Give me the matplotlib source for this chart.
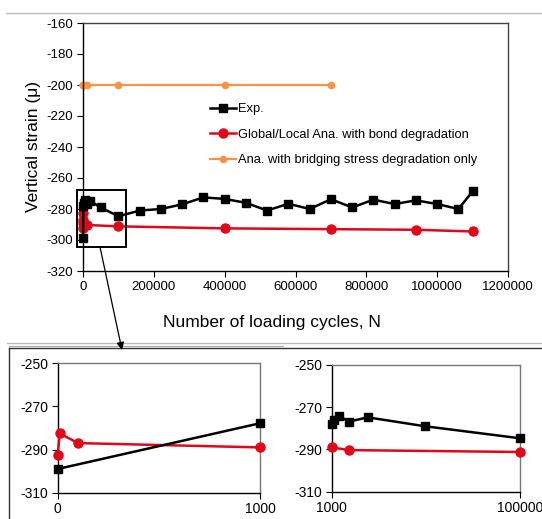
import matplotlib
matplotlib.use('Agg')
import matplotlib.pyplot as plt
from matplotlib.lines import Line2D
from matplotlib.patches import Rectangle

plt.rcParams['font.family'] = ['Liberation Sans', 'DejaVu Sans']
plt.rcParams['axes.linewidth'] = 1.0
plt.rcParams['axes.unicode_minus'] = False

# ---- data ----
exp_n = [0, 1000, 2000, 5000, 10000, 20000, 50000, 100000, 160000, 220000,
         280000, 340000, 400000, 460000, 520000, 580000, 640000, 700000,
         760000, 820000, 880000, 940000, 1000000, 1060000, 1100000]
exp_strain = [-299, -277.8, -276, -274.2, -276.8, -274.8, -279, -284.7, -281, -280,
              -277, -272.5, -273.5, -276, -281, -276.6, -280, -273.7,
              -279, -274, -276.8, -274.4, -276.8, -280, -268.6]

bond_n = [0, 10, 100, 1000, 10000, 100000, 400000, 700000, 940000, 1100000]
bond_strain = [-292.5, -282.5, -287, -289, -290.3, -291.2, -292.5, -293, -293.4, -294.5]

bridge_n = [0, 10, 100, 1000, 10000, 100000, 400000, 700000]
bridge_strain = [-200, -200, -200, -200, -200, -200, -200, -200]

main_xticks = [0, 200000, 400000, 600000, 800000, 1000000, 1200000]
main_yticks = [-320, -300, -280, -260, -240, -220, -200, -180, -160]
inset_yticks = [-310, -290, -270, -250]

C_EXP = 'black'
C_BOND = '#E0071B'
C_BRIDGE = '#F7944A'

W, H = 542, 519
fig = plt.figure(figsize=(W / 100, H / 100), dpi=100)


def fx(px):
    return px / W


def fy(py):
    return 1 - py / H


def style_frame(ax, side_color):
    ax.spines['left'].set_color('black')
    ax.spines['bottom'].set_color('black')
    ax.spines['top'].set_color(side_color)
    ax.spines['right'].set_color(side_color)


# ---- main chart ----
ax = fig.add_axes([fx(83), fy(271), fx(508) - fx(83), fy(23) - fy(271)])
ax.plot(bridge_n, bridge_strain, color=C_BRIDGE, lw=1.6, marker='o', ms=4.5,
        mec=C_BRIDGE, zorder=2, clip_on=False,
        label='Ana. with bridging stress degradation only')
ax.plot(bond_n, bond_strain, color=C_BOND, lw=1.8, marker='o', ms=6.5,
        mec=C_BOND, zorder=3, clip_on=False,
        label='Global/Local Ana. with bond degradation')
ax.plot(exp_n, exp_strain, color=C_EXP, lw=1.8, marker='s', ms=6,
        zorder=4, clip_on=False, label='Exp.')
ax.set_xlim(0, 1200000)
ax.set_ylim(-320, -160)
ax.set_xticks(main_xticks)
ax.set_xticklabels([str(v) for v in main_xticks])
ax.set_yticks(main_yticks)
ax.tick_params(labelsize=9.5, length=4, direction='out', pad=3)
style_frame(ax, '#444444')
ax.set_ylabel('Vertical strain (\u03bc)', fontsize=12.5, labelpad=4)

# zoom box
ax.add_patch(Rectangle((-17000, -304.5), 138000, 36.5, fill=False,
                       ec='black', lw=1.4, clip_on=False, zorder=5))

h, l = ax.get_legend_handles_labels()
order = [2, 1, 0]
fig.legend([h[i] for i in order], [l[i] for i in order],
           loc='upper left', bbox_to_anchor=(fx(210), fy(103)),
           frameon=False, fontsize=9.3, borderpad=0, borderaxespad=0,
           handlelength=2.0, handletextpad=0.15, labelspacing=1.05)

fig.text(fx(272), fy(322), 'Number of loading cycles, N', fontsize=12.5,
         ha='center', va='center')

# arrow from zoom box to insets
fig.add_artist(plt.Annotation('', xy=(fx(122), fy(350)), xytext=(fx(100), fy(247)),
                              xycoords='figure fraction', textcoords='figure fraction',
                              arrowprops=dict(arrowstyle='-|>', color='black', lw=0.9,
                                              mutation_scale=11, shrinkA=0, shrinkB=0)))

# decorative frame lines
fig.add_artist(Line2D([fx(6), 1], [fy(13), fy(13)], color='#BBBBBB', lw=1.0))
fig.add_artist(Line2D([fx(7), 1], [fy(343), fy(343)], color='#BBBBBB', lw=1.0))
fig.add_artist(Line2D([fx(9), fx(283)], [fy(345.5), fy(345.5)], color='#AAAAAA', lw=0.8))
fig.add_artist(Line2D([fx(9), 1], [fy(348), fy(348)], color='#333333', lw=1.0))
fig.add_artist(Line2D([fx(9), fx(9)], [fy(348), 0], color='#333333', lw=1.0))

# ---- inset 1: 0 - 1000 ----
ax1 = fig.add_axes([fx(57.7), fy(492.7), fx(260) - fx(57.7), fy(363.3) - fy(492.7)])
ax1.plot(bond_n[:4], bond_strain[:4], color=C_BOND, lw=1.8, marker='o', ms=6.5,
         mec=C_BOND, zorder=3, clip_on=False)
ax1.plot(exp_n[:2], exp_strain[:2], color=C_EXP, lw=1.8, marker='s', ms=6,
         zorder=4, clip_on=False)
ax1.set_xlim(0, 1000)
ax1.set_ylim(-310, -250)
ax1.set_xticks([0, 1000])
ax1.set_yticks(inset_yticks)
ax1.tick_params(labelsize=10, length=4, direction='out', pad=3)
style_frame(ax1, '#777777')

# ---- inset 2: 1000 - 100000 ----
ax2 = fig.add_axes([fx(331.7), fy(491.7), fx(520) - fx(331.7), fy(365) - fy(491.7)])
ax2.plot(bond_n[3:6], bond_strain[3:6], color=C_BOND, lw=1.8, marker='o', ms=6.5,
         mec=C_BOND, zorder=3, clip_on=False)
ax2.plot(exp_n[1:8], exp_strain[1:8], color=C_EXP, lw=1.8, marker='s', ms=6,
         zorder=4, clip_on=False)
ax2.set_xlim(1000, 100000)
ax2.set_ylim(-310, -250)
ax2.set_xticks([1000, 100000])
ax2.set_xticklabels(['1000', '100000'])
ax2.set_yticks(inset_yticks)
ax2.tick_params(labelsize=10, length=4, direction='out', pad=3)
style_frame(ax2, '#777777')

fig.savefig('out.png', dpi=100)
